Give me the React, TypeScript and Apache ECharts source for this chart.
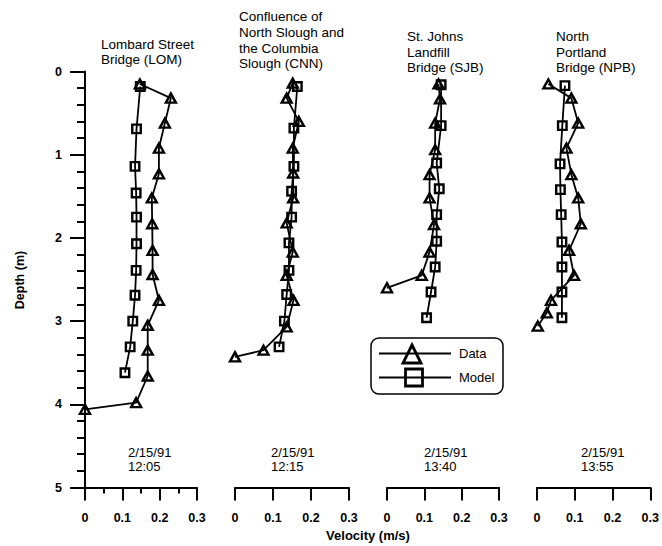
import React, { useEffect, useRef } from "react";
import * as echarts from "echarts";

const stations = ["LOM", "CNN", "SJB", "NPB"];
const titles = [
  "Lombard Street\nBridge (LOM)",
  "Confluence of\nNorth Slough and\nthe Columbia\nSlough (CNN)",
  "St. Johns\nLandfill\nBridge (SJB)",
  "North\nPortland\nBridge (NPB)",
];
const dates = ["2/15/91\n12:05", "2/15/91\n12:15", "2/15/91\n13:40", "2/15/91\n13:55"];
const xTicks = [0, 0.1, 0.2, 0.3];
const yTicks = [0, 1, 2, 3, 4, 5];

// LOM
const lomModelDepth = [0.18, 0.69, 1.14, 1.46, 1.75, 2.07, 2.39, 2.69, 3.0, 3.31, 3.62];
const lomModelVel = [0.148, 0.138, 0.134, 0.137, 0.138, 0.138, 0.137, 0.134, 0.128, 0.121, 0.107];
const lomDataDepth = [0.15, 0.32, 0.62, 0.92, 1.23, 1.52, 1.83, 2.15, 2.44, 2.75, 3.05, 3.35, 3.66, 3.98, 4.06];
const lomDataVel = [0.147, 0.23, 0.214, 0.198, 0.198, 0.179, 0.18, 0.181, 0.181, 0.198, 0.168, 0.168, 0.168, 0.137, 0.0];
// CNN
const cnnModelDepth = [0.18, 0.68, 1.14, 1.44, 1.75, 2.06, 2.39, 2.68, 3.0, 3.31];
const cnnModelVel = [0.164, 0.155, 0.155, 0.149, 0.149, 0.142, 0.142, 0.136, 0.13, 0.116];
const cnnDataDepth = [0.14, 0.32, 0.6, 0.92, 1.22, 1.52, 1.82, 2.17, 2.45, 2.75, 3.07, 3.35, 3.43];
const cnnDataVel = [0.152, 0.136, 0.168, 0.152, 0.153, 0.153, 0.136, 0.152, 0.136, 0.154, 0.136, 0.075, 0.0];
// SJB
const sjbModelDepth = [0.16, 0.65, 1.1, 1.41, 1.72, 2.04, 2.35, 2.65, 2.96];
const sjbModelVel = [0.145, 0.145, 0.133, 0.14, 0.133, 0.133, 0.129, 0.118, 0.106];
const sjbDataDepth = [0.15, 0.33, 0.62, 0.94, 1.24, 1.52, 1.84, 2.17, 2.45, 2.6];
const sjbDataVel = [0.138, 0.142, 0.129, 0.129, 0.114, 0.114, 0.126, 0.114, 0.093, 0.0];
// NPB
const npbModelDepth = [0.17, 0.65, 1.11, 1.42, 1.72, 2.05, 2.35, 2.65, 2.96];
const npbModelVel = [0.074, 0.067, 0.061, 0.062, 0.064, 0.066, 0.066, 0.066, 0.066];
const npbDataDepth = [0.15, 0.32, 0.62, 0.92, 1.24, 1.52, 1.83, 2.15, 2.45, 2.75, 2.9, 3.06];
const npbDataVel = [0.03, 0.091, 0.109, 0.078, 0.091, 0.109, 0.116, 0.085, 0.098, 0.037, 0.026, 0.002];

const modelDepths = [lomModelDepth, cnnModelDepth, sjbModelDepth, npbModelDepth];
const modelVels = [lomModelVel, cnnModelVel, sjbModelVel, npbModelVel];
const dataDepths = [lomDataDepth, cnnDataDepth, sjbDataDepth, npbDataDepth];
const dataVels = [lomDataVel, cnnDataVel, sjbDataVel, npbDataVel];

const FONT = '"Liberation Sans", Arial, Helvetica, sans-serif';

export default function App() {
  const ref = useRef<HTMLDivElement>(null);
  useEffect(() => {
    document.body.style.margin = "0";
    if (!ref.current) return;
    const chart = echarts.init(ref.current, null, { renderer: "svg" });

    const gridLefts = [85, 235, 387, 537];
    const gridWidths = [112, 114, 112, 114];
    const top = 71.5;
    const bottom = 487.5;

    const grids = gridLefts.map((l, i) => ({
      left: l,
      width: gridWidths[i],
      top: top,
      height: bottom - top,
      containLabel: false,
    }));

    const xAxes = stations.map((_, i) => ({
      gridIndex: i,
      type: "value",
      min: xTicks[0],
      max: xTicks[xTicks.length - 1],
      interval: 0.1,
      position: "bottom",
      axisLine: { show: true, onZero: false, lineStyle: { color: "#000", width: 2 } },
      axisTick: { show: true, inside: false, length: 13, lineStyle: { color: "#000", width: 2 } },
      minorTick:
        i === 0
          ? { show: true, splitNumber: 2, length: 6, lineStyle: { color: "#000", width: 2 } }
          : { show: false },
      splitLine: { show: false },
      axisLabel: {
        margin: 24,
        fontSize: 12.5,
        fontWeight: "bold",
        color: "#000",
        fontFamily: FONT,
        formatter: (v: number) => (v === 0 ? "0" : String(Math.round(v * 10) / 10)),
      },
    }));

    const yAxes = stations.map((_, i) => ({
      gridIndex: i,
      type: "value",
      inverse: true,
      min: yTicks[0],
      max: yTicks[yTicks.length - 1],
      interval: 1,
      show: i === 0,
      axisLine: { show: true, onZero: false, lineStyle: { color: "#000", width: 2 } },
      axisTick: { show: true, inside: false, length: 15, lineStyle: { color: "#000", width: 2 } },
      minorTick: { show: true, splitNumber: 5, length: 8, lineStyle: { color: "#000", width: 2 } },
      splitLine: { show: false },
      axisLabel: {
        margin: 23,
        fontSize: 12.5,
        fontWeight: "bold",
        color: "#000",
        fontFamily: FONT,
      },
    }));

    const series: any[] = [];
    stations.forEach((s, i) => {
      series.push({
        name: "Model",
        type: "line",
        xAxisIndex: i,
        yAxisIndex: i,
        data: modelVels[i].map((v, k) => [v, modelDepths[i][k]]),
        symbol: "rect",
        symbolSize: 8.5,
        lineStyle: { color: "#000", width: 1.8 },
        itemStyle: { color: "rgba(255,255,255,0)", borderColor: "#000", borderWidth: 2.4 },
        z: 3,
      });
      series.push({
        name: "Data",
        type: "line",
        xAxisIndex: i,
        yAxisIndex: i,
        data: dataVels[i].map((v, k) => [v, dataDepths[i][k]]),
        symbol: "triangle",
        symbolSize: [10, 9],
        lineStyle: { color: "#000", width: 1.8 },
        itemStyle: { color: "rgba(255,255,255,0)", borderColor: "#000", borderWidth: 2.4 },
        z: 4,
      });
    });

    const titleTops = [36.5, 9, 29, 29];
    const titleLH = [15, 15.7, 15.5, 15.5];
    const titleLefts = [101, 239, 407, 556];
    const dateLefts = [128, 271, 424, 581];

    const titleArr: any[] = [];
    titles.forEach((t, i) => {
      titleArr.push({
        text: t,
        left: titleLefts[i],
        top: titleTops[i],
        padding: 0,
        textStyle: {
          fontSize: 13.5,
          fontWeight: "normal",
          color: "#000",
          lineHeight: titleLH[i],
          fontFamily: FONT,
        },
      });
      titleArr.push({
        text: dates[i],
        left: dateLefts[i],
        top: 445,
        padding: 0,
        textStyle: {
          fontSize: 13,
          fontWeight: "normal",
          color: "#000",
          lineHeight: 14,
          fontFamily: FONT,
        },
      });
    });

    const graphic: any[] = [
      {
        type: "text",
        x: 19.5,
        y: 280,
        rotation: Math.PI / 2,
        style: {
          text: "Depth (m)",
          font: `bold 12.5px ${FONT}`,
          fill: "#000",
          textAlign: "center",
          textVerticalAlign: "middle",
        },
      },
      {
        type: "text",
        x: 368,
        y: 535,
        style: {
          text: "Velocity (m/s)",
          font: `bold 13px ${FONT}`,
          fill: "#000",
          textAlign: "center",
          textVerticalAlign: "middle",
        },
      },
      // legend box
      {
        type: "rect",
        shape: { x: 371, y: 338, width: 132, height: 56, r: 8 },
        style: { fill: "#fff", stroke: "#000", lineWidth: 1.5 },
        z: 10,
      },
      {
        type: "line",
        shape: { x1: 379, y1: 353.5, x2: 451, y2: 353.5 },
        style: { stroke: "#000", lineWidth: 1.8 },
        z: 11,
      },
      {
        type: "polygon",
        shape: { points: [[403, 363], [421, 363], [412, 345]] },
        style: { fill: "rgba(255,255,255,0)", stroke: "#000", lineWidth: 2.8 },
        z: 12,
      },
      {
        type: "line",
        shape: { x1: 379, y1: 377.5, x2: 451, y2: 377.5 },
        style: { stroke: "#000", lineWidth: 1.8 },
        z: 11,
      },
      {
        type: "rect",
        shape: { x: 405.5, y: 369, width: 17, height: 17 },
        style: { fill: "rgba(255,255,255,0)", stroke: "#000", lineWidth: 2.8 },
        z: 12,
      },
      {
        type: "text",
        x: 459,
        y: 353,
        style: {
          text: "Data",
          font: `13px ${FONT}`,
          fill: "#000",
          textAlign: "left",
          textVerticalAlign: "middle",
        },
        z: 12,
      },
      {
        type: "text",
        x: 459,
        y: 377,
        style: {
          text: "Model",
          font: `13px ${FONT}`,
          fill: "#000",
          textAlign: "left",
          textVerticalAlign: "middle",
        },
        z: 12,
      },
    ];

    chart.setOption({
      animation: false,
      backgroundColor: "#fff",
      textStyle: { fontFamily: FONT },
      title: titleArr,
      grid: grids,
      xAxis: xAxes,
      yAxis: yAxes,
      series,
      graphic,
    });

    return () => chart.dispose();
  }, []);

  return <div ref={ref} style={{ width: 662, height: 546 }} />;
}
